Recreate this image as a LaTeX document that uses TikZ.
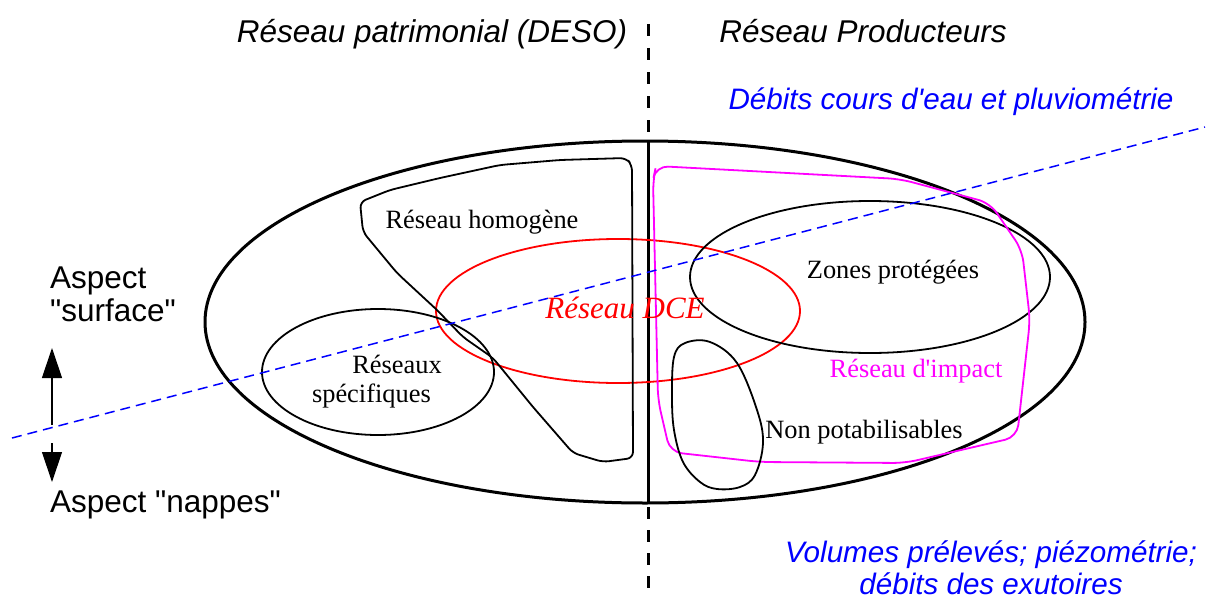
\documentclass[tikz,border=0pt]{standalone}
\usepackage{fontspec}
\setmainfont{Liberation Serif}[Ligatures=TeXOff]
\setsansfont{Liberation Sans}[Ligatures=TeXOff]
\usetikzlibrary{arrows.meta}
\definecolor{rose}{RGB}{255,0,255}
\definecolor{bleu}{RGB}{0,0,255}

\begin{document}
\begin{tikzpicture}[x=1pt, y=-1pt, >={Triangle[width=20pt,length=30pt]}]
\tikzstyle{titre}=[font=\sffamily\itshape\fontsize{31.5}{33}\selectfont, inner sep=0pt]
\tikzstyle{mesure}=[font=\sffamily\itshape\fontsize{29.6}{32}\selectfont, inner sep=0pt, text=bleu, align=center]
\tikzstyle{aspect}=[font=\sffamily\fontsize{31.5}{33}\selectfont, inner sep=0pt, align=left, anchor=west]
\tikzstyle{zone}=[font=\fontsize{26.4}{29}\selectfont, inner sep=0pt, anchor=base]
\tikzstyle{trait}=[line width=1.8pt]
\tikzstyle{axe}=[line width=3pt]
\useasboundingbox (0,0) rectangle (1209,602);
% separation DESO / producteurs
\coordinate (v0) at (648,24);
\coordinate (v1) at (648,141);
\coordinate (v2) at (648,502);
\coordinate (v3) at (648,590);
\draw[axe, dash pattern=on 12pt off 12pt] (v0) -- (v1);
\draw[axe] (v1) -- (v2);
\draw[axe, dash pattern=on 12pt off 11pt, dash phase=18pt] (v2) -- (v3);
% ensembles
\draw[axe] (645,322) ellipse [x radius=440, y radius=181];
\draw[trait, red] (618,311) ellipse [x radius=182, y radius=72];
\draw[trait] (870,277) ellipse [x radius=180, y radius=76];
\draw[trait] (378,372) ellipse [x radius=116, y radius=63];
\draw[trait, rounded corners=6pt] (360,202) -- (363,232) -- (397,273) -- (437,310)
  -- (463,337) -- (493,358) -- (533,407) -- (573,453) -- (603,462) -- (633,458)
  -- (632,165) -- (626,158) -- (560,160) -- (500,165) -- (440,178) -- (390,190) -- cycle;
\draw[trait, rose, rounded corners=12pt] (656,166) -- (900,179) -- (990,203)
  -- (1022,250) -- (1030,320) -- (1017,437) -- (905,463) -- (760,462) -- (670,452)
  -- (658,400) -- (653,180) -- cycle;
\draw[trait] plot[smooth cycle, tension=0.6] coordinates {(685,343) (710,342) (737,363)
  (757,410) (763,443) (755,475) (740,487) (717,489) (700,482) (683,462) (674,430)
  (672,395) (674,357)};
% limite surface / nappes
\coordinate (b0) at (12,438);
\coordinate (b1) at (1205,127);
\draw[bleu, line width=1.5pt, dash pattern=on 10pt off 6pt] (b0) -- (b1);
\coordinate (s0) at (52,425);
\coordinate (s1) at (52,348);
\coordinate (n0) at (52,443);
\coordinate (n1) at (52,482);
\draw[line width=1.2pt, ->] (s0) -- (s1);
\draw[line width=1.2pt, ->] (n0) -- (n1);
% textes
\node[titre, anchor=base] (deso) at (432,42) {Réseau patrimonial (DESO)};
\node[titre, anchor=base] (prod) at (863,42) {Réseau Producteurs};
\node[mesure, anchor=base] (debits) at (951,109) {Débits cours d'eau et pluviométrie};
\node[mesure] (volumes) at (991,568) {Volumes prélevés; piézométrie;\\débits des exutoires};
\node[aspect] (surface) at (50,294) {Aspect\\"surface"};
\node[aspect] (nappes) at (50,505) {Aspect "nappes"};
\node[zone] (homogene) at (482,228) {Réseau homogène};
\node[zone, anchor=base east] (reseaux) at (442,373) {Réseaux};
\node[zone, anchor=base east] (specif) at (431,402) {spécifiques};
\node[zone, font=\itshape\fontsize{31}{33}\selectfont, text=red] (dce) at (625,318) {Réseau DCE};
\node[zone] (protegees) at (893,278) {Zones protégées};
\node[zone, text=rose] (impact) at (916,377) {Réseau d'impact};
\node[zone] (nonpot) at (864,438) {Non potabilisables};
\end{tikzpicture}
\end{document}
